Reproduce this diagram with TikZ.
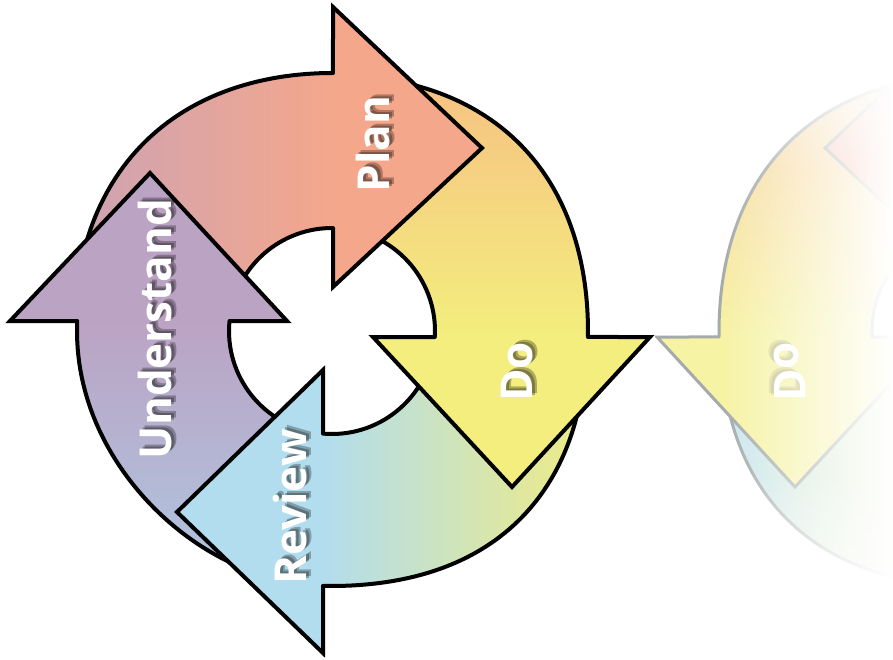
\documentclass[tikz,border=0pt]{standalone}
\usepackage{fontspec}
\newfontfamily\lblfont{Open Sans}
\usetikzlibrary{fadings,calc}
\definecolor{planL}{HTML}{CEA3B3}
\definecolor{planR}{HTML}{F4A78B}
\definecolor{doT}{HTML}{F6C283}
\definecolor{doB}{HTML}{F3EE7D}
\definecolor{revL}{HTML}{B2DDEE}
\definecolor{revR}{HTML}{EDEB88}
\definecolor{undT}{HTML}{BBA3C4}
\definecolor{undB}{HTML}{AEC5DF}
\definecolor{ghostline}{HTML}{7F8686}
\tikzset{
  ln/.style={draw=black, line width=4, line join=miter, line cap=round},
  lblfontstyle/.style={font=\lblfont\bfseries\fontsize{44}{44}\selectfont, rotate=90, inner sep=0pt, transform shape},
  lbl/.style={lblfontstyle, text=white},
  lblshadow/.style={lblfontstyle, text=black, opacity=0.28},
}
% #1 fill options, #2 R0, #3 bulge, #4 start angle, #5 outer end, #6 inner end
\newcommand\shaft[6]{%
  \fill[#1] plot[domain=#5:#4,samples=50] ({332+ro(\x,#2,#3)*cos(\x)},{331+ro(\x,#2,#3)*sin(\x)})
     -- plot[domain=#4:#6,samples=30] ({332+103*cos(\x)},{331+103*sin(\x)}) -- cycle;
  \draw[ln] plot[domain=#5:#4,samples=50] ({332+ro(\x,#2,#3)*cos(\x)},{331+ro(\x,#2,#3)*sin(\x)})
     -- plot[domain=#4:#6,samples=30] ({332+103*cos(\x)},{331+103*sin(\x)});
}
% #1 colour, #2 R0, #3 bulge, #4 outer end, #5 inner end, #6 outer corner, #7 tip, #8 inner corner, #9 back vector
\newcommand\headarrow[9]{%
  \coordinate (oe) at ({332+ro(#4,#2,#3)*cos(#4)},{331+ro(#4,#2,#3)*sin(#4)});
  \coordinate (ie) at ({332+103*cos(#5)},{331+103*sin(#5)});
  \fill[#1] (oe) -- (#6) -- (#7) -- (#8) -- (ie) -- ($(ie)!0.08!(oe)+#9$) -- ($(oe)!0.08!(ie)+#9$) -- cycle;
  \draw[ln] (oe) -- (#6) -- (#7) -- (#8) -- (ie);
}
% #1 name, #2 label text, #3 x, #4 y
\newcommand\arrowlabel[4]{%
  \node[lblshadow] at (#3+3,#4-2) {#2};
  \node[lblshadow] at (#3+5,#4-4) {#2};
  \node[lbl] (#1) at (#3,#4) {#2};
}
\newcommand\drawshapes{%
  \shaft{left color=planL,right color=planR}{258}{8}{195}{270.22}{270.56}
  \shaft{top color=doT,bottom color=doB}{256}{9}{285}{361.34}{363.34}
  \shaft{left color=revL,right color=revR}{255}{11}{15}{92.02}{95.01}
  \shaft{top color=undT,bottom color=undB}{255}{-4}{105}{182.25}{185.57}
  \headarrow{planR}{258}{8}{270.22}{270.56}{333,7}{482,148}{333,287}{(-3,0)}
  \headarrow{doB}{256}{9}{361.34}{363.34}{650,337}{512,487}{373,337}{(0,-3)}
  \headarrow{revL}{255}{11}{92.02}{95.01}{323,653}{177,512}{323,370}{(3,0)}
  \headarrow{undT}{255}{-4}{182.25}{185.57}{10,321}{150,173}{287,321}{(0,3)}
}
\begin{document}
\begin{tikzpicture}[x=1pt,y=-1pt,declare function={ro(\t,\a,\b)=\a+\b*sin(2*\t)*sin(2*\t);}]
\useasboundingbox (0,0) rectangle (893,659);
\fill[white] (0,0) rectangle (893,659);
% faded mirror image at the right edge
\begin{scope}
  \clip (655,0) rectangle (893,659);
  \begin{scope}[shift={(1307,0)},xscale=-1]
    \tikzset{ln/.style={draw=ghostline, line width=3, line join=miter, line cap=round},
             lblshadow/.style={lblfontstyle, text=black, opacity=0.15}}
    \drawshapes
    \arrowlabel{gdo}{Do}{517}{372}
  \end{scope}
  \fill[white,opacity=0.3] (655,0) rectangle (893,659);
  \fill[white,path fading=west] (720,0) rectangle (893,659);
  \fill[white,path fading=south] (655,0) rectangle (893,170);
  \fill[white,path fading=north] (655,470) rectangle (893,659);
\end{scope}
% main cycle
\drawshapes
\arrowlabel{plan}{Plan}{373}{144}
\arrowlabel{do}{Do}{517}{372}
\arrowlabel{review}{Review}{290}{507}
\arrowlabel{understand}{Understand}{155}{329}
\end{tikzpicture}
\end{document}
